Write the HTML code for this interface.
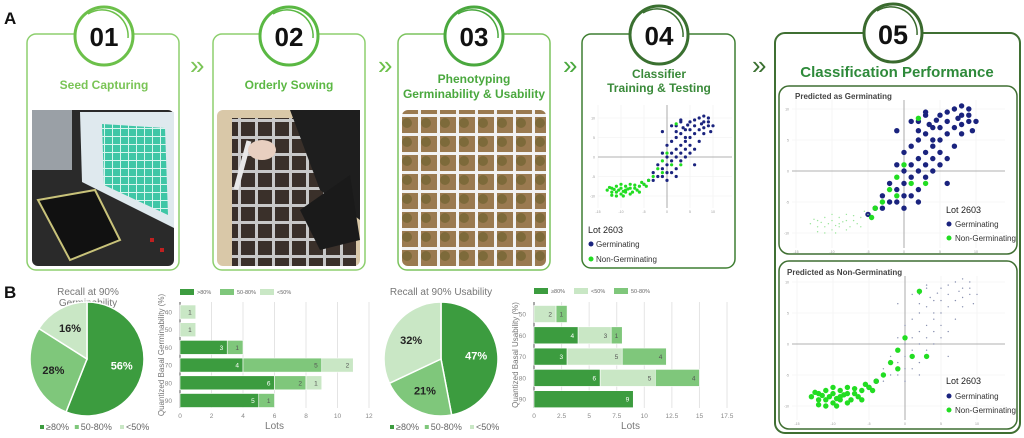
<!DOCTYPE html>
<html><head><meta charset="utf-8">
<style>
html,body{margin:0;padding:0;background:#fff;}
svg{display:block;font-family:"Liberation Sans",sans-serif;}
</style></head>
<body>
<svg id="fig" width="1024" height="438" viewBox="0 0 1024 438" xmlns="http://www.w3.org/2000/svg">
<defs>
<pattern id="trayGrid" width="17" height="17" patternUnits="userSpaceOnUse"><rect width="17" height="17" fill="#3a302a"/><rect x="0" y="0" width="17" height="3" fill="#c8c8c8"/><rect x="0" y="0" width="3" height="17" fill="#c8c8c8"/></pattern>
<pattern id="soilGrid" width="19" height="19" patternUnits="userSpaceOnUse"><rect width="19" height="19" fill="#9a7a50"/><circle cx="8" cy="9" r="5" fill="#7d6a3a"/><rect width="19" height="3" fill="#f2f2f2"/><rect width="3" height="19" fill="#f2f2f2"/></pattern>
<pattern id="screenGrid" width="8" height="8" patternUnits="userSpaceOnUse"><rect width="8" height="8" fill="#3fc6a6"/><rect width="8" height="1" fill="#d8f5ee"/><rect width="1" height="8" fill="#d8f5ee"/></pattern>
</defs>

<text x="4" y="24" font-size="17" font-weight="bold" fill="#111">A</text>

<!-- Panel 01 -->
<g>
<rect x="27" y="34" width="152" height="236" rx="9" fill="none" stroke="#8dcf6e" stroke-width="1.5"/>
<circle cx="104" cy="36" r="29" fill="#fff" stroke="#6cc04a" stroke-width="3"/>
<path d="M 88 14 A 26 26 0 0 1 128 38" fill="none" stroke="#6cc04a" stroke-width="1.5"/>
<text x="104" y="46" font-size="26" font-weight="bold" text-anchor="middle" fill="#111">01</text>
<text x="104" y="89" font-size="12" font-weight="bold" text-anchor="middle" fill="#7ac456">Seed Capturing</text>
<g>
<rect x="32" y="110" width="142" height="156" rx="6" fill="#2a2a2a"/>
<rect x="32" y="110" width="40" height="60" fill="#9aa0a6"/>
<polygon points="80,112 174,112 174,228 82,182" fill="#dfe9ee"/>
<polygon points="102,124 165,128 168,215 104,185" fill="url(#screenGrid)"/>
<polygon points="38,200 95,190 120,240 70,260" fill="#111" stroke="#c9c37a" stroke-width="2"/>
<rect x="150" y="238" width="4" height="4" fill="#c02020"/><rect x="160" y="248" width="4" height="4" fill="#c02020"/>
</g>
</g>
<text x="190" y="74" font-size="26" fill="#7ac456">»</text>

<!-- Panel 02 -->
<g>
<rect x="213" y="34" width="152" height="236" rx="9" fill="none" stroke="#8dcf6e" stroke-width="1.5"/>
<circle cx="289" cy="36" r="29" fill="#fff" stroke="#5ab843" stroke-width="3"/>
<path d="M 273 14 A 26 26 0 0 1 313 38" fill="none" stroke="#5ab843" stroke-width="1.5"/>
<text x="289" y="46" font-size="26" font-weight="bold" text-anchor="middle" fill="#111">02</text>
<text x="289" y="89" font-size="12" font-weight="bold" text-anchor="middle" fill="#5cb844">Orderly Sowing</text>
<g>
<rect x="217" y="110" width="143" height="156" rx="6" fill="#d9c8a8"/>
<rect x="232" y="118" width="124" height="148" fill="url(#trayGrid)"/>
<polygon points="290,110 360,110 360,220 320,190" fill="#1e1e1e"/>
<polygon points="300,210 350,175 360,240 320,250" fill="#1a1a1a"/>
<rect x="240" y="140" width="5" height="50" fill="#e8e8e8" transform="rotate(15 242 165)"/>
<ellipse cx="262" cy="150" rx="14" ry="10" fill="#e8cfc0"/>
</g>
</g>
<text x="378" y="74" font-size="26" fill="#6cc04a">»</text>

<!-- Panel 03 -->
<g>
<rect x="398" y="34" width="152" height="236" rx="9" fill="none" stroke="#7cc35e" stroke-width="1.5"/>
<circle cx="474" cy="36" r="29" fill="#fff" stroke="#4aa83e" stroke-width="3"/>
<path d="M 458 14 A 26 26 0 0 1 498 38" fill="none" stroke="#4aa83e" stroke-width="1.5"/>
<text x="474" y="46" font-size="26" font-weight="bold" text-anchor="middle" fill="#111">03</text>
<text x="474" y="83" font-size="12" font-weight="bold" text-anchor="middle" fill="#4aa83e">Phenotyping</text>
<text x="474" y="98" font-size="12" font-weight="bold" text-anchor="middle" fill="#4aa83e">Germinability &amp; Usability</text>
<rect x="402" y="110" width="144" height="156" rx="6" fill="url(#soilGrid)"/>
</g>
<text x="563" y="74" font-size="26" fill="#4aa83e">»</text>

<!-- Panel 04 -->
<g>
<rect x="582" y="34" width="153" height="234" rx="9" fill="none" stroke="#3f7f32" stroke-width="1.5"/>
<circle cx="659" cy="35" r="29" fill="#fff" stroke="#3a7030" stroke-width="3"/>
<path d="M 643 13 A 26 26 0 0 1 683 37" fill="none" stroke="#3a7030" stroke-width="1.5"/>
<text x="659" y="45" font-size="26" font-weight="bold" text-anchor="middle" fill="#111">04</text>
<text x="659" y="78" font-size="12" font-weight="bold" text-anchor="middle" fill="#3a8a3a">Classifier</text>
<text x="659" y="92" font-size="12" font-weight="bold" text-anchor="middle" fill="#3a8a3a">Training &amp; Testing</text>
<g id="sc4"></g>
<text x="588" y="233" font-size="9" fill="#222">Lot 2603</text>
<circle cx="591" cy="244" r="2.5" fill="#1a237e"/><text x="596" y="247" font-size="8" fill="#333">Germinating</text>
<circle cx="591" cy="259" r="2.5" fill="#22dd22"/><text x="596" y="262" font-size="8" fill="#333">Non-Germinating</text>
</g>
<text x="752" y="74" font-size="26" fill="#3a7030">»</text>

<!-- Panel 05 -->
<g>
<rect x="775" y="33" width="245" height="400" rx="10" fill="none" stroke="#3f6f32" stroke-width="2"/>
<circle cx="893" cy="33" r="29" fill="#fff" stroke="#3a6a2e" stroke-width="3"/>
<path d="M 877 11 A 26 26 0 0 1 917 35" fill="none" stroke="#3a6a2e" stroke-width="1.5"/>
<text x="893" y="44" font-size="27" font-weight="bold" text-anchor="middle" fill="#111">05</text>
<text x="897" y="77" font-size="15" font-weight="bold" text-anchor="middle" fill="#2e8a3a">Classification Performance</text>
<rect x="779" y="86" width="238" height="168" rx="10" fill="none" stroke="#3f6f32" stroke-width="1.5"/>
<text x="795" y="99" font-size="8" font-weight="bold" fill="#444">Predicted as Germinating</text>
<g id="sc5a"></g>
<text x="946" y="213" font-size="9" fill="#222">Lot 2603</text>
<circle cx="949" cy="224" r="2.5" fill="#1a237e"/><text x="955" y="227" font-size="8" fill="#333">Germinating</text>
<circle cx="949" cy="238" r="2.5" fill="#22dd22"/><text x="955" y="241" font-size="8" fill="#333">Non-Germinating</text>
<rect x="779" y="261" width="238" height="168" rx="10" fill="none" stroke="#3f6f32" stroke-width="1.5"/>
<text x="787" y="275" font-size="8" font-weight="bold" fill="#444">Predicted as Non-Germinating</text>
<g id="sc5b"></g>
<text x="946" y="384" font-size="9" fill="#222">Lot 2603</text>
<circle cx="949" cy="396" r="2.5" fill="#1a237e"/><text x="955" y="399" font-size="8" fill="#333">Germinating</text>
<circle cx="949" cy="410" r="2.5" fill="#22dd22"/><text x="955" y="413" font-size="8" fill="#333">Non-Germinating</text>
</g>

<!-- Section B -->
<text x="4" y="298" font-size="17" font-weight="bold" fill="#111">B</text>
<text x="88" y="295" font-size="10" text-anchor="middle" fill="#777">Recall at 90%</text>
<text x="88" y="306" font-size="10" text-anchor="middle" fill="#777">Germinability</text>
<g id="pie1"></g>
<g id="bar1"></g>
<text x="441" y="295" font-size="10" text-anchor="middle" fill="#777">Recall at 90% Usability</text>
<g id="pie2"></g>
<g id="bar2"></g>
</svg>

<script>
// ---------- data ----------
const pie1Labels = ['≥80%', '50-80%', '<50%'];
const pie1Values = [56, 28, 16];
const pie2Labels = ['≥80%', '50-80%', '<50%'];
const pie2Values = [47, 21, 32];

const bar1Categories = ['40', '50', '60', '70', '80', '90'];
const bar1High = [0, 0, 3, 4, 6, 5];
const bar1Mid = [0, 0, 1, 5, 2, 1];
const bar1Low = [1, 1, 0, 2, 1, 0];
const bar1Ticks = [0, 2, 4, 6, 8, 10, 12];

const bar2Categories = ['50', '60', '70', '80', '90'];
const bar2High = [0, 4, 3, 6, 9];
const bar2Low = [2, 3, 5, 5, 0];
const bar2Mid = [1, 1, 4, 4, 0];
const bar2Ticks = [0, 2.5, 5, 7.5, 10, 12.5, 15, 17.5];

const germX = [2,3,4,5,6,7,8,9,6,5,3,4,7,8,9,10,2,1,3,4,5,6,2,1,3,4,0,-1,0,1,2,5,-2,-1,0,1,-3,-2,-1,0,2,-4,3,6,8,2,4,7,6,-1,1,8,9.5,5,3,-3,2,0,-5,7.5,9,4.5,3.5];
const germY = [8,9,7,9,8,10,9,8,6,7,6,5,7,6,9,8,5,4,3,4,3,2,2,1,1,0,3,1,0,-1,0,1,-2,-3,-2,-4,-4,-5,-5,-4,-5,-6,9.5,9.5,10.5,6.5,2,4,-2,6.5,8,7.5,6.5,5,-1,-6,-3,-6,-7,8.5,10,8.2,7.5];
const nonX = [-12,-11,-10,-9,-8,-11,-10,-9,-12,-8,-7,-6,-5,-10.5,-9.5,-8.5,-7.5,-11.5,-6.5,-4,-3,-2,-1,0,1,3,2,-1,-13,-12.5,-9,-7,-4.5,-10,-11,-8,-6,-12,-9.5,-5.5];
const nonY = [-8,-9,-8,-9,-8,-7.5,-9.5,-7.5,-9,-9.5,-8,-7.5,-7,-8.5,-8.8,-8.2,-9,-8.3,-8.5,-6,-5,-3,-1,1,-2,-2,8.5,-4,-8.5,-7.8,-8.5,-7.2,-7.5,-7,-10,-7,-9,-9.8,-10,-6.5];

// ---------- helpers ----------
const NS = 'http://www.w3.org/2000/svg';
function mk(tag, attrs, parent) {
  const e = document.createElementNS(NS, tag);
  for (const k in attrs) e.setAttribute(k, attrs[k]);
  parent.appendChild(e);
  return e;
}
const C_HIGH = '#3c9c3f', C_MID = '#7fc77b', C_LOW = '#c9e7c5';

function drawPie(gid, cx, cy, r, values, labels, legendY, legendX) {
  const g = document.getElementById(gid);
  const colors = [C_HIGH, C_MID, C_LOW];
  const total = values.reduce((a, b) => a + b, 0);
  let a0 = -Math.PI / 2;
  values.forEach((v, i) => {
    const a1 = a0 + v / total * 2 * Math.PI;
    const x0 = cx + r * Math.cos(a0), y0 = cy + r * Math.sin(a0);
    const x1 = cx + r * Math.cos(a1), y1 = cy + r * Math.sin(a1);
    const large = (a1 - a0) > Math.PI ? 1 : 0;
    const p = mk('path', {d: `M${cx},${cy} L${x0},${y0} A${r},${r} 0 ${large} 1 ${x1},${y1} Z`, fill: colors[i], stroke: '#fff', 'stroke-width': 1.5}, g);
    
    
    const am = (a0 + a1) / 2;
    const t = mk('text', {x: cx + r * 0.62 * Math.cos(am), y: cy + r * 0.62 * Math.sin(am) + 4, 'font-size': 11, 'font-weight': 'bold', 'text-anchor': 'middle', fill: i === 0 ? '#fff' : '#222'}, g);
    t.textContent = v + '%';
    
    
    a0 = a1;
  });
  let lx = legendX;
  labels.forEach((l, i) => {
    mk('rect', {x: lx, y: legendY - 5, width: 4, height: 4, fill: colors[i]}, g);
    const t = mk('text', {x: lx + 6, y: legendY, 'font-size': 9, fill: '#666'}, g);
    t.textContent = l;
    
    
    lx += l.length * 5.2 + 14;
  });
}

function drawBars(gid, cats, series, colors, names, ticks, x0, pxPer, yFirst, yStep, barH, yTop, yBottom, yTitle, legendX, legendY) {
  const g = document.getElementById(gid);
  const xs = v => x0 + v * pxPer;
  ticks.forEach(t => {
    mk('line', {x1: xs(t), x2: xs(t), y1: yTop, y2: yBottom, stroke: '#e4e4e4', 'stroke-width': 1}, g);
    const tl = mk('text', {x: xs(t), y: yBottom + 10, 'font-size': 6.5, 'text-anchor': 'middle', fill: '#888'}, g);
    tl.textContent = t;
    
    
  });
  mk('line', {x1: x0, x2: x0, y1: yTop, y2: yBottom, stroke: '#555', 'stroke-width': 1}, g);
  cats.forEach((c, i) => {
    const yc = yFirst + i * yStep;
    const cl = mk('text', {x: x0 - 8, y: yc + 2.5, 'font-size': 6.5, 'text-anchor': 'end', fill: '#888'}, g);
    cl.textContent = c;
    
    
    let acc = 0;
    series.forEach((s, k) => {
      const v = s[i];
      if (!v) return;
      const r = mk('rect', {x: xs(acc), y: yc - barH / 2, width: v * pxPer, height: barH, fill: colors[k], stroke: '#fff', 'stroke-width': 0.6}, g);
      
      
      acc += v;
      const vl = mk('text', {x: xs(acc) - 4, y: yc + 2.5, 'font-size': 6.5, 'text-anchor': 'end', fill: k === 0 ? '#fff' : '#555'}, g);
      vl.textContent = v;
      
      
    });
  });
  const lots = mk('text', {x: (xs(ticks[0]) + xs(ticks[ticks.length - 1])) / 2, y: yBottom + 21, 'font-size': 10, 'text-anchor': 'middle', fill: '#777'}, g);
  lots.textContent = 'Lots';
  
  
  const yt = mk('text', {x: 0, y: 0, 'font-size': 8, 'text-anchor': 'middle', fill: '#777', transform: `translate(${x0 - 16},${(yTop + yBottom) / 2}) rotate(-90)`}, g);
  yt.textContent = yTitle;
  
  
  let lx = legendX;
  names.forEach((n, k) => {
    mk('rect', {x: lx, y: legendY - 5, width: 14, height: 6, fill: colors[k]}, g);
    const t = mk('text', {x: lx + 17, y: legendY, 'font-size': 5.5, fill: '#666'}, g);
    t.textContent = n;
    
    
    lx += 40;
  });
}

function drawScatter(gid, cx, cy, sx, sy, left, right, top, bottom, mode, rBig, xTicks, yTicks) {
  const g = document.getElementById(gid);
  const X = v => cx + v * sx, Y = v => cy - v * sy;
  xTicks.forEach(t => {
    mk('line', {x1: X(t), x2: X(t), y1: top, y2: bottom, stroke: '#f0f0f0', 'stroke-width': 0.6}, g);
    const tl = mk('text', {x: X(t), y: bottom + 5, 'font-size': 3.5, 'text-anchor': 'middle', fill: '#999'}, g);
    tl.textContent = t;
  });
  yTicks.forEach(t => {
    mk('line', {x1: left, x2: right, y1: Y(t), y2: Y(t), stroke: '#f0f0f0', 'stroke-width': 0.6}, g);
    const tl = mk('text', {x: left - 3, y: Y(t) + 1.5, 'font-size': 3.5, 'text-anchor': 'end', fill: '#999'}, g);
    tl.textContent = t;
  });
  mk('line', {x1: left, x2: right, y1: Y(0), y2: Y(0), stroke: '#999', 'stroke-width': 0.8}, g);
  mk('line', {x1: X(0), x2: X(0), y1: top, y2: bottom, stroke: '#999', 'stroke-width': 0.8}, g);
  function pt(x, y, r, fill, name) {
    const c = mk('circle', {cx: X(x), cy: Y(y), r: r, fill: fill}, g);
    
    
  }
  germX.forEach((x, i) => {
    const y = germY[i];
    if (mode === 'nongerm' && x > -4) pt(x, y, 0.7, '#8890b0', 'faint-germinating-point');
    else pt(x, y, rBig, '#1a237e', 'germinating-point');
  });
  nonX.forEach((x, i) => {
    const y = nonY[i];
    if (mode === 'germ' && x <= -5) pt(x, y, 0.7, '#9be59b', 'faint-non-germinating-point');
    else pt(x, y, rBig, '#22dd22', 'non-germinating-point');
  });
}

drawPie('pie1', 87, 359, 57, pie1Values, pie1Labels, 430, 40);
drawPie('pie2', 441, 359, 57, pie2Values, pie2Labels, 430, 390);
drawBars('bar1', bar1Categories, [bar1High, bar1Mid, bar1Low], [C_HIGH, C_MID, C_LOW], ['>80%', '50-80%', '<50%'], bar1Ticks, 180, 15.75, 312, 17.7, 14, 302, 408, 'Quantized Basal Germinability (%)', 180, 294);
drawBars('bar2', bar2Categories, [bar2High, bar2Low, bar2Mid], [C_HIGH, C_LOW, C_MID], ['≥80%', '<50%', '50-80%'], bar2Ticks, 534, 11.03, 314, 21.3, 17, 302, 408, 'Quantized Basal Usability (%)', 534, 293);
drawScatter('sc4', 667, 157, 4.6, 3.9, 598, 732, 105, 208, 'all', 1.6, [-15,-10,-5,0,5,10], [-10,-5,0,5,10]);
drawScatter('sc5a', 904, 171, 7.2, 6.2, 792, 1005, 100, 248, 'germ', 2.7, [-15,-10,-5,0,5,10], [-10,-5,0,5,10]);
drawScatter('sc5b', 905, 344, 7.2, 6.2, 792, 1005, 276, 420, 'nongerm', 2.7, [-15,-10,-5,0,5,10], [-10,-5,0,5,10]);
</script>
</body></html>
